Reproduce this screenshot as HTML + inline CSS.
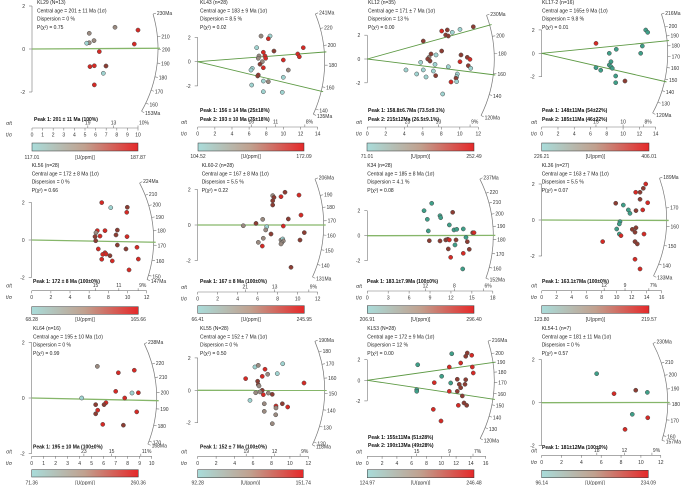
<!DOCTYPE html>
<html><head><meta charset="utf-8"><style>
html,body{margin:0;padding:0;background:#fff;}
svg{display:block;font-family:"Liberation Sans",sans-serif;}
</style></head><body>
<svg id="chart" width="700" height="485" viewBox="0 0 700 485">
<defs><linearGradient id="ug" x1="0" x2="1" y1="0" y2="0">
<stop offset="0" stop-color="#a9dcda"/><stop offset="0.5" stop-color="#c1a08e"/><stop offset="1" stop-color="#e5292a"/></linearGradient></defs>
</svg>
<script>
// ---- data: precision (t/σ), standardized estimate (z), U-concentration class ----
const P1_X=[5.4,5.4,5.16,5.85,7.83,10,9.65,6.35,5.47,5.88,6.98,6.73,5.88];
const P1_Z=[0.73,0.29,0.27,0.39,1.01,0.88,0.23,-0.12,-0.82,-0.78,-0.79,-1.13,-1.67];
const P1_C="ggcggrrrrrmcr";
const P2_X=[7.39,8.44,8.24,6.88,8.9,7.66,12.32,7.15,7.07,7.85,7.93,11.67,11.86,9.99,7.54,7.27,7.66,6.37,6.22,10.57,7.07,7.0,7.66,8.24,9.99,6.3,7.66,9.87];
const P2_Z=[2.12,2.12,1.9,1.16,0.88,0.78,1.16,0.47,0.28,0.47,0.28,0.64,0.41,0.14,0,-0.21,-0.5,-0.55,-0.69,-0.69,-1.1,-1.18,-1.6,-1.65,-1.29,-1.93,-2.48,-2.53];
const P2_C="gcrcmrrggrrrrrgmrccgrmcgcccc";
const P3_X=[8.04,8.65,9.19,10.02,11.46,8.47,8.76,6.05,8.04,6.89,7.43,6.67,6.53,6.78,5.77,7.32,8.76,10.13,10.02,10.81,11.1,10.92,11.18,4.18,6.05,7.14,5.34,7.39,6.35,9.73,9.66,9.59,9.05,9.66,8.15];
const P3_Z=[2.35,2.44,2.24,2.49,2.71,2.02,1.93,1.51,0.67,0.42,0.34,0.14,0,-0.17,-0.28,-0.45,-0.65,0.34,-0.23,0.14,-0.03,-0.56,-0.78,-0.92,-0.92,-1.01,-1.26,-1.4,-1.51,-1.26,-1.49,-1.62,-1.93,-1.9,-2.94];
const P3_C="rmccmmmmmmcgmmcccmrmrmcccccmcccmrc".padEnd(35,"c");
const P4_X=[12.78,13.02,6.67,12.36,9.16,8.3,12.16,8.51,8.3,8.51,8.67,6.67,7.25,9.09,9.09,10.23];
const P4_Z=[1.99,1.79,0.85,0.62,0.34,0,0,-0.72,-1.0,-1.15,-1.28,-1.23,-1.45,-1.94,-2.51,-2.37];
const P4_C="ttrttttttttttttm";
const P5_X=[7.31,8.25,9.98,9.92,7.65,8.94,6.85,6.71,6.61,7.13,8.8,9.95,6.68,6.95,8.94,9.84,10.99,7.65,7.41,7.76,7.31,8.17,8.41,11.13,10.16];
const P5_Z=[2.0,1.73,1.75,1.48,0.5,0.53,0.5,0.39,0.18,0.21,0.27,0.18,-0.04,-0.48,-0.27,-0.48,-0.39,-0.68,-0.77,-0.75,-1.03,-0.84,-1.12,-1.02,-1.6];
const P5_C="rcmrrmrgmrmrmrmmrrrrrmrrr";
const P6_X=[4.56,5.83,6.5,6.9,6.8,7.5,7.63,7.5,7.5,8.73,8.33,10.13,10.33,9.06,8.56,7.33,6.56,6.06,6.46,8.33,8.5,8.56,8.4,8.33,10.66,10.23,9.33];
const P6_Z=[-0.04,0.09,0.32,-0.1,-0.28,1.66,1.56,1.37,1.13,1.85,1.6,1.69,0.56,0.34,-0.06,-0.51,-0.75,-0.98,-1.19,-0.85,-0.79,-0.9,-1.0,-1.07,-0.43,-0.85,-2.39];
const P6_C="gmgcggmmmmrrrmrmggrgcgggmmm";
const P7_X=[9.24,8.14,8.61,10.43,10.53,12.25,11.77,8.75,12.44,12.83,13.77,15.12,15.31,14.16,14.35,8.9,10.43,11.25,11.54,11.77,12.73,12.58,11.62,11.96,13.77,14.63,13.69];
const P7_Z=[2.59,2.0,1.31,1.6,1.44,1.87,0.86,0.38,0.46,0.51,0.54,0.24,0.24,-0.13,-0.48,-0.4,-0.42,-0.34,-0.29,-0.34,-0.34,-0.74,-1.06,-1.73,-1.41,-1.09,-2.66];
const P7_C="tttttmtttttmrtmmmmmrmtmrrmt";
const P8_X=[13.87,13.55,12.53,13.11,9.87,10.88,13.11,14.13,11.55,11.77,12.57,13.47,10.44,10.35,12.08,12.57,10.0,12.44,13.64,10.35,10.57,8.13,12.44,12.75,12.44,13.11];
const P8_Z=[2.0,1.76,1.54,1.54,0.93,0.83,1.15,0.96,0.56,0.37,0.52,0.56,-0.09,-0.22,-0.52,-0.43,-0.5,-0.68,-0.78,-0.78,-0.87,-1.2,-1.2,-1.33,-2.18,-2.72];
const P8_C="rmrmmtmrttmrttmmtmrtrrmmrr";
const P9_X=[5.47,7.22,8.55,7.0,8.36,8.89,4.17,7.75,5.33,6.19,6.03,5.5,5.33,8.75,5.92,7.64];
const P9_Z=[1.14,0.91,1.0,0.24,0.18,0.19,0,0,-0.24,-0.17,-0.24,-0.44,-0.57,-0.5,-0.95,-0.98];
const P9_C="grrrcrcrmrmrmrrm";
const P10_X=[6.21,6.57,7.3,7.59,8.63,9.22,7.0,5.2,6.5,6.57,6.65,11.53,7.0,6.76,6.29,7.12,7.66,8.09,5.67,7.22,7.22,9.18,8.49,9.76,8.49,8.46,8.09];
const P10_Z=[1.44,1.54,1.3,0.99,1.03,1.64,0.86,0.72,0.56,0.35,0.27,0.45,0,-0.1,-0.15,-0.27,-0.17,-0.25,-0.62,-0.83,-1.3,-0.83,-0.97,-1.03,-1.09,-1.51,-2.06];
const P10_C="cgrgccrrmmgrmggrgmcggmrrggg";
const P11_X=[11.41,13.51,14.11,13.3,6.81,11.08,12.62,14.19,14.32,10.05,12.16,13.3,9.05,11.27,12.43,13.2,12.62,11.08,12.16,6.68,6.68,12.84,12.3,13.07,13.43,8.92,9.96];
const P11_Z=[2.58,2.65,2.43,2.33,1.51,1.29,1.68,1.29,0.71,0.39,0.1,0.06,-0.23,-0.26,-0.39,-0.39,-0.72,-1.07,-1.07,-0.91,-1.07,-1.52,-2.43,-2.2,-2.43,-2.82,-3.95];
const P11_C="tmrmtrrrrtmmrtmmmrmttmrmmrr";
const P12_X=[5.54,7.29,9.48,10.65,9.13,10.69,8.4];
const P12_Z=[1.35,0.42,0.58,0.48,-0.54,-0.7,-1.24];
const P12_C="trmttrr";
// peak ages, arc tick ages, colour-scale ranges, relative-error labels
const PEAKS=[[201],[156,193],[158.8,215],[148,185],[172],[167],[183.1],[163.1],[195],[152],[155,190],[181]];
const ARC_TICKS=[[230,210,200,190,180,170,160,153],[241,220,200,180,160,140,135],[230,200,180,160,140,120],[216,200,190,180,170,160,150,140,130,120],[224,210,200,190,180,170,160,150,147],[206,190,180,170,160,150,140,131],[237,220,210,200,190,180,170,160,152],[189,170,160,150,140,133],[238,220,210,200,190,180,170,168],[190,180,170,160,150,140,130,120,118],[216,200,190,180,170,160,150,140,130,120],[230,210,200,190,180,170,160,157]];
const U_MIN=["117.01","104.52","71.01","226.21","68.28","66.41","206.91","123.80","71.36","92.28","124.97","96.14"];
const U_MAX=["187.87","172.09","252.49","406.01","165.66","245.95","296.40","219.57","260.36","151.74","246.48","234.09"];
const REL_ERR=[[19,13,10],[16,11,8],[23,13,9],[15,10,8],[15,11,9],[21,13,9],[12,8,6],[12,9,7],[23,15,11],[19,12,9],[15,9,7],[18,12,9]];
const X_MAX=[10,14,12,14,12,12,18,16,10,12,16,12];
const X_STEP=[1,2,2,2,2,2,3,2,1,2,2,2];
const TITLES=[
["KL29 (N=13)","Central age = 201 ± 11 Ma (1σ)","Dispersion = 0 %","P(χ²) = 0.75"],
["KL43 (n=28)","Central age = 183 ± 9 Ma (1σ)","Dispersion = 8.5 %","P(χ²) = 0.02"],
["KL12 (n=35)","Central age = 171 ± 7 Ma (1σ)","Dispersion = 13 %","P(χ²) = 0.00"],
["KL17-2 (n=16)","Central age = 165± 9 Ma (1σ)","Dispersion = 9.8 %","P(χ²) = 0.01"],
["KL56 (n=28)","Central age = 172 ± 8 Ma (1σ)","Dispersion = 0 %","P(χ²) = 0.66"],
["KL60-2 (n=28)","Central age = 167 ± 8 Ma (1σ)","Dispersion = 5.5 %","P(χ²) = 0.22"],
["K34 (n=28)","Central age = 185 ± 8 Ma (1σ)","Dispersion = 4.1 %","P(χ²) = 0.08"],
["KL36 (n=27)","Central age = 163 ± 7 Ma (1σ)","Dispersion = 5.5 %","P(χ²) = 0.07"],
["KL64 (n=16)","Central age = 195 ± 10 Ma (1σ)","Dispersion = 0 %","P(χ²) = 0.99"],
["KL55 (N=28)","Central age = 152 ± 7 Ma (1σ)","Dispersion = 0 %","P(χ²) = 0.50"],
["KL53 (N=28)","Central age = 172 ± 9 Ma (1σ)","Dispersion = 12 %","P(χ²) = 0.00"],
["KL54-1 (n=7)","Central age = 181 ± 11 Ma (1σ)","Dispersion = 0 %","P(χ²) = 0.57"]];
const PEAK_TEXT=[
["Peak 1: 201 ± 11 Ma (100%)"],["Peak 1: 156 ± 14 Ma (25±18%)","Peak 2: 193 ± 10 Ma (75±18%)"],
["Peak 1: 158.8±6.7Ma (73.5±9.1%)","Peak 2: 215±12Ma (26.5±9.1%)"],["Peak 1: 148±11Ma (54±22%)","Peak 2: 185±11Ma (46±22%)"],
["Peak 1: 172 ± 8 Ma (100±0%)"],["Peak 1: 167 ± 8 Ma (100±0%)"],["Peak 1: 183.1±7.9Ma (100±0%)"],["Peak 1: 163.1±7Ma (100±0%)"],
["Peak 1: 195 ± 10 Ma (100±0%)"],["Peak 1: 152 ± 7 Ma (100±0%)"],["Peak 1: 155±11Ma (51±28%)","Peak 2: 190±13Ma (49±28%)"],["Peak 1: 181±12Ma (100±0%)"]];

// ---- layout (panel-local pixels) ----
const L=[
{px:0,py:0,ox:32,oy:49,zs:21.5,xs:10.6,ax:128,pk:[119],cb:[32,138,143,151],lb:159,tx:37,ty:4,pkx:34,R:126,tt:0.289,tb:-0.568,d:[P1_X,P1_Z,P1_C]},
{px:175,py:0,ox:22.7,oy:61.7,zs:12.1,xs:8.57,ax:127,pk:[110,119],cb:[23,129,143,151],lb:158,tx:25,ty:4,pkx:25,R:127,tt:0.406,tb:-0.454,d:[P2_X,P2_Z,P2_C]},
{px:350,py:0,ox:17.3,oy:59,zs:11.9,xs:9.25,ax:127,pk:[110,119],cb:[17,124,143,151],lb:158,tx:18,ty:4,pkx:18,R:127,tt:0.367,tb:-0.497,d:[P3_X,P3_Z,P3_C]},
{px:525,py:0,ox:16.7,oy:53.3,zs:11.7,xs:8.14,ax:127,pk:[110,119],cb:[16.7,124,143,151],lb:158,tx:17,ty:4,pkx:17,R:126,tt:0.328,tb:-0.538,d:[P4_X,P4_Z,P4_C]},
{px:0,py:160,ox:31.7,oy:80,zs:18.7,xs:9.58,ax:130.7,pk:[121],cb:[31.7,138.3,146.7,154.3],lb:161,tx:31.7,ty:7,pkx:33,R:122,tt:0.528,tb:-0.343,d:[P5_X,P5_Z,P5_C]},
{px:175,py:160,ox:22.7,oy:65,zs:17.7,xs:10,ax:132,pk:[121.3],cb:[22.7,129.3,145.7,153.3],lb:161,tx:26.7,ty:7,pkx:25,R:126,tt:0.392,tb:-0.453,d:[P6_X,P6_Z,P6_C]},
{px:350,py:160,ox:17.3,oy:75.7,zs:12.5,xs:6.97,ax:131,pk:[121],cb:[17.3,124,145.7,153.3],lb:161,tx:17.3,ty:7,pkx:17,R:126,tt:0.503,tb:-0.359,d:[P7_X,P7_Z,P7_C]},
{px:525,py:160,ox:16.7,oy:60,zs:18,xs:7.5,ax:130.7,pk:[121],cb:[16.7,124,145.7,153.3],lb:161,tx:16.7,ty:7,pkx:17,R:125,tt:0.355,tb:-0.5,d:[P8_X,P8_Z,P8_C]},
{px:0,py:322,ox:31.7,oy:76,zs:27.75,xs:12,ax:134.3,pk:[124.7],cb:[31.7,138.3,147.7,155],lb:162.5,tx:33,ty:8,pkx:33,R:125,tt:0.481,tb:-0.397,d:[P9_X,P9_Z,P9_C]},
{px:175,py:322,ox:22.7,oy:68.3,zs:16.2,xs:9.22,ax:134.3,pk:[124.7],cb:[22.7,128.3,147.7,155.7],lb:162.5,tx:25,ty:8,pkx:25,R:127,tt:0.418,tb:-0.476,d:[P10_X,P10_Z,P10_C]},
{px:350,py:322,ox:17.3,oy:58.3,zs:10.3,xs:7.4,ax:134.3,pk:[115.3,123],cb:[17.3,124,147.7,155.7],lb:162.5,tx:17.3,ty:8,pkx:18,R:127,tt:0.325,tb:-0.516,d:[P11_X,P11_Z,P11_C]},
{px:525,py:322,ox:16.7,oy:80.7,zs:21.5,xs:9.92,ax:133.3,pk:[125.3],cb:[16.7,123.3,148.3,155.7],lb:162.5,tx:16.7,ty:8,pkx:17,R:126,tt:0.532,tb:-0.313,d:[P12_X,P12_Z,P12_C]}];

const NS="http://www.w3.org/2000/svg";
const svg=document.getElementById("chart");
function mk(tag,attrs,parent,txt){const e=document.createElementNS(NS,tag);for(const k in attrs)e.setAttribute(k,attrs[k]);if(txt!==undefined)e.textContent=txt;parent.appendChild(e);return e;}
const FILL={c:"#9fd3d0",t:"#3f9f88",g:"#9a8a80",m:"#8c3d33",r:"#d52a25"};
const AX="#777";

L.forEach((p,i)=>{
  const g=mk("g",{transform:`translate(${p.px},${p.py})`},svg);
  
  
  const k=(p.tt-p.tb)/Math.log(ARC_TICKS[i][0]/ARC_TICKS[i][ARC_TICKS[i].length-1]);
  const t0=ARC_TICKS[i][0]/Math.exp(p.tt/k);
  const ang=t=>Math.atan(k*Math.log(t/t0));
  const X=v=>p.ox+v*p.xs, Y=z=>p.oy-z*p.zs;
  // titles
  TITLES[i].forEach((s,j)=>{const t=mk("text",{x:p.tx,y:p.ty+j*8.3,"font-size":5,fill:"#222"},g,s);
    
    });
  // y axis
  const ya=mk("g",{},g);
  
  
  mk("line",{x1:p.ox,x2:p.ox,y1:Y(2),y2:Y(-2),stroke:AX,"stroke-width":0.6},ya);
  [2,0,-2].forEach(z=>{mk("line",{x1:p.ox-3,x2:p.ox,y1:Y(z),y2:Y(z),stroke:AX,"stroke-width":0.6},ya);
    mk("text",{x:p.ox-7,y:Y(z)+2,"font-size":5,"text-anchor":"end",fill:"#333"},ya,String(z));});
  // arc
  const a0=Math.atan(p.tt),a1=Math.atan(p.tb);
  const arc=mk("path",{d:`M${p.ox+p.R*Math.cos(a0)},${p.oy-p.R*Math.sin(a0)} A${p.R},${p.R} 0 0 1 ${p.ox+p.R*Math.cos(a1)},${p.oy-p.R*Math.sin(a1)}`,fill:"none",stroke:AX,"stroke-width":0.7},g);
  
  
  const ticks=ARC_TICKS[i];
  ticks.forEach((t,j)=>{const a=ang(t),c=Math.cos(a),s=Math.sin(a);
    mk("line",{x1:p.ox+p.R*c,y1:p.oy-p.R*s,x2:p.ox+(p.R+3)*c,y2:p.oy-(p.R+3)*s,stroke:AX,"stroke-width":0.6},g);
    const lab=mk("text",{x:p.ox+(p.R+4)*c,y:p.oy-(p.R+4)*s+2,"font-size":5,fill:"#333"},g,(j==0||j==ticks.length-1)?t+"Ma":String(t));
    
    });
  // peak lines
  PEAKS[i].forEach(pk=>{const a=ang(pk);
    const ln=mk("line",{x1:p.ox,y1:p.oy,x2:p.ox+(p.R+2)*Math.cos(a),y2:p.oy-(p.R+2)*Math.sin(a),stroke:PEAKS[i].length>1?"#5e9a45":"#86b66a","stroke-width":PEAKS[i].length>1?0.9:1.3},g);
    
    });
  // points
  const [XS,ZS,CS]=p.d;
  XS.forEach((xv,j)=>{const c=mk("circle",{cx:X(xv),cy:Y(ZS[j]),r:2.1,fill:FILL[CS[j]]||FILL.c,stroke:"#4a4a4a","stroke-width":0.5},g);
    
    });
  // peak text
  PEAK_TEXT[i].forEach((s,j)=>{const t=mk("text",{x:p.pkx,y:p.pk[j]+1.8,"font-size":5,"font-weight":"bold",fill:"#111"},g,s);
    
    });
  // bottom axis
  const ba=mk("g",{},g);
  
  
  const xm=X_MAX[i];
  mk("line",{x1:X(0),x2:X(xm),y1:p.ax,y2:p.ax,stroke:AX,"stroke-width":0.6},ba);
  for(let v=0;v<=xm+1e-9;v+=X_STEP[i]){mk("line",{x1:X(v),x2:X(v),y1:p.ax,y2:p.ax+2.5,stroke:AX,"stroke-width":0.6},ba);
    mk("text",{x:X(v),y:p.ax+8.5,"font-size":5,"text-anchor":"middle",fill:"#333"},ba,String(v));}
  REL_ERR[i].forEach((e,j)=>{const xx=X(100/e);
    mk("line",{x1:xx,x2:xx,y1:p.ax,y2:p.ax-2.5,stroke:AX,"stroke-width":0.6},ba);
    mk("text",{x:xx+(j==2?1:0),y:p.ax-3.5,"font-size":5,"text-anchor":j==2?"start":"middle",fill:"#333"},ba,j==2?e+"%":String(e));});
  mk("text",{x:9,y:p.ax-3,"font-size":5,"text-anchor":"middle",fill:"#333"},ba,"σ/t");
  mk("text",{x:9,y:p.ax+8.5,"font-size":5,"text-anchor":"middle",fill:"#333"},ba,"t/σ");
  // colour bar
  const [c0,c1,y0,y1]=p.cb;
  const cb=mk("rect",{x:c0,y:y0,width:c1-c0,height:y1-y0,fill:"url(#ug)",stroke:"#333","stroke-width":0.5},g);
  
  
  mk("text",{x:c0,y:p.lb,"font-size":5,"text-anchor":"middle",fill:"#333"},g,U_MIN[i]);
  mk("text",{x:c1,y:p.lb,"font-size":5,"text-anchor":"middle",fill:"#333"},g,U_MAX[i]);
  mk("text",{x:(c0+c1)/2,y:p.lb,"font-size":5,"text-anchor":"middle",fill:"#333"},g,"[U(ppm)]");
});
</script>
</body></html>
